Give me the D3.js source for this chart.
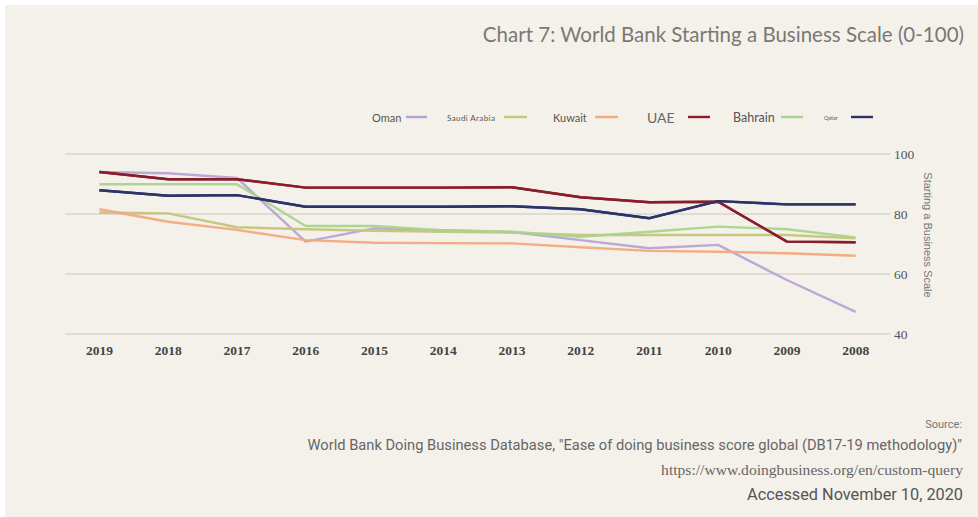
<!DOCTYPE html>
<html><head><meta charset="utf-8">
<script src="https://cdn.jsdelivr.net/npm/d3@7"></script>
<style>
html,body{margin:0;padding:0;background:#fff;}
svg{display:block;}
</style></head>
<body>
<svg id="c" width="978" height="517"></svg>
<script>
const years = ["2019","2018","2017","2016","2015","2014","2013","2012","2011","2010","2009","2008"];
const oman   = [94.0, 93.6, 92.0, 70.8, 75.2, 74.6, 74.0, 71.3, 68.6, 69.7, 58.0, 47.4];
const saudi  = [80.5, 80.2, 75.6, 74.9, 74.4, 74.1, 73.8, 73.0, 73.0, 73.0, 73.0, 71.9];
const kuwait = [81.6, 77.4, 74.7, 71.3, 70.4, 70.3, 70.2, 68.9, 67.7, 67.4, 66.9, 66.1];
const uae    = [94.0, 91.6, 91.6, 88.8, 88.8, 88.8, 88.9, 85.6, 83.9, 84.1, 70.8, 70.6];
const bahrain= [89.9, 89.9, 89.9, 76.0, 76.0, 74.5, 74.1, 72.4, 74.1, 75.8, 74.9, 72.2];
const qatar  = [87.9, 86.1, 86.3, 82.4, 82.4, 82.4, 82.6, 81.6, 78.6, 84.3, 83.2, 83.2];
const yTicks = [40, 60, 80, 100];

const seriesNames  = ["Oman","Saudi Arabia","Kuwait","UAE","Bahrain","Qatar"];
const seriesValues = [oman, saudi, kuwait, uae, bahrain, qatar];
const seriesColors = ["#b8a2d4","#c6c479","#f3a97c","#8a1c2b","#a9d48e","#2c3367"];
const legendSizes  = [11, 8, 11, 14, 12.5, 5.5];

const svg = d3.select("#c");
svg.append("rect").attr("x",5).attr("y",5).attr("width",978).attr("height",517).attr("fill","#f4f1ea");

const x = d3.scaleBand().domain(years).range([65, 890]);
const y = d3.scaleLinear().domain([40, 100]).range([334, 154]);

// gridlines
svg.append("g").selectAll("line").data(yTicks).join("line")
  .attr("x1",65).attr("x2",890)
  .attr("y1",d=>y(d)).attr("y2",d=>y(d))
  .attr("stroke","#c9c6c0").attr("stroke-width",1.2);

// y axis labels (right)
const yAxis = d3.axisRight(y).tickValues(yTicks).tickSize(0).tickPadding(0);
const gy = svg.append("g").attr("transform","translate(894,0)").call(yAxis);
gy.select(".domain").remove();
gy.selectAll("text").attr("font-family","'Liberation Serif', serif")
  .attr("font-size",13.5).attr("fill","#555").attr("dy","0.35em");

// x axis labels
const xAxis = d3.axisBottom(x).tickSize(0).tickPadding(0);
const gx = svg.append("g").attr("transform","translate(0,345)").call(xAxis);
gx.select(".domain").remove();
gx.selectAll("text").attr("font-family","'Liberation Serif', serif")
  .attr("font-size",13.5).attr("font-weight","bold").attr("fill","#444");

// y axis title
svg.append("text").attr("transform","translate(924,235) rotate(90)")
  .attr("text-anchor","middle").attr("font-family","'Liberation Sans', Arial, sans-serif")
  .attr("font-size",11).attr("fill","#777").text("Starting a Business Scale");

// lines
const line = d3.line().x((d,i)=>x(years[i]) + x.bandwidth()/2).y(d=>y(d));
seriesValues.forEach((vals,k)=>{
  svg.append("path").datum(vals).attr("d",line)
    .attr("fill","none").attr("stroke",seriesColors[k])
    .attr("stroke-width",2.4).attr("stroke-linejoin","round").attr("opacity",0.95);
});
[3,5].forEach(k=>{
  svg.append("path").datum(seriesValues[k]).attr("d",line)
    .attr("fill","none").attr("stroke",seriesColors[k]).attr("stroke-width",2.4);
});

// legend
const legendX = [372, 447, 553, 647, 733, 824];
const lineX   = [406, 504, 595, 688, 781, 851];
const lineW   = [21, 23, 23, 22, 22, 22];
seriesNames.forEach((n,k)=>{
  svg.append("text").attr("x",legendX[k]).attr("y",118).attr("dy","0.35em")
    .attr("font-family","Lato, sans-serif").attr("font-size",legendSizes[k])
    .style("letter-spacing", k===1 ? "0.4px" : "0px")
    .attr("fill", k===3 ? "#666" : "#555").text(n);
  svg.append("line").attr("x1",lineX[k]).attr("x2",lineX[k]+lineW[k])
    .attr("y1",117).attr("y2",117).attr("stroke",seriesColors[k]).attr("stroke-width",2.4);
});

// title
svg.append("text").attr("x",964).attr("y",42).attr("text-anchor","end")
  .attr("font-family","Lato, 'Open Sans', sans-serif").attr("font-size",20.5)
  .attr("fill","#7a7874").text("Chart 7: World Bank Starting a Business Scale (0-100)");

// source
svg.append("text").attr("x",962).attr("y",428).attr("text-anchor","end")
  .attr("font-family","Roboto, sans-serif").attr("font-size",11).attr("fill","#777").text("Source:");
svg.append("text").attr("x",962).attr("y",450).attr("text-anchor","end")
  .attr("font-family","Roboto, sans-serif").attr("font-size",14.7).attr("fill","#666")
  .text("World Bank Doing Business Database, \"Ease of doing business score global (DB17-19 methodology)\"");
svg.append("text").attr("x",963).attr("y",475).attr("text-anchor","end")
  .attr("font-family","'Liberation Serif', serif").attr("font-size",15.6).attr("fill","#666")
  .text("https://www.doingbusiness.org/en/custom-query");
svg.append("text").attr("x",963).attr("y",500).attr("text-anchor","end")
  .attr("font-family","Roboto, sans-serif").attr("font-size",16.3).attr("fill","#555")
  .text("Accessed November 10, 2020");
</script>
</body></html>
